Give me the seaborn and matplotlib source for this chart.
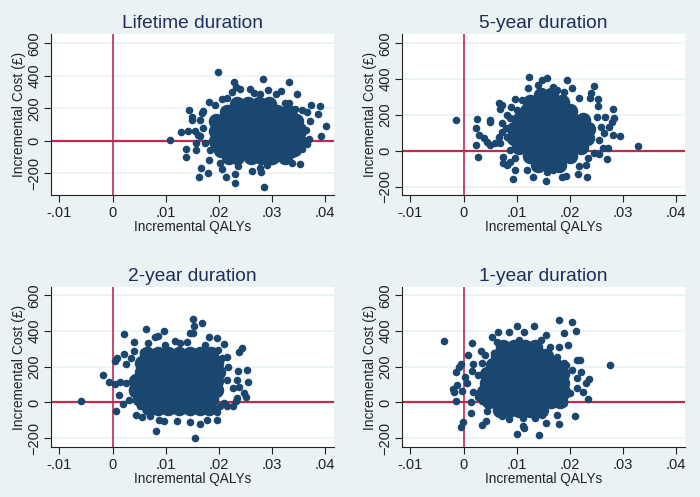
import matplotlib
matplotlib.use("Agg")
import matplotlib.pyplot as plt
import pandas as pd
import seaborn as sns

titles = ["Lifetime duration", "5-year duration", "2-year duration", "1-year duration"]
x_ticks = [-.01, 0, .01, .02, .03, .04]
x_tick_labels = ["-.01", "0", ".01", ".02", ".03", ".04"]
y_ticks = [-200, 0, 200, 400, 600]

# Dense centre of each cloud, read row by row: one cost per row, QALYs along it
life_core_cost = [225, 175, 120, 60, 0, -60, -100]
life_core_qaly = [[.0235,.0255,.0275,.0295],[.0215,.023,.025,.027,.029,.031,.033],[.0195,.021,.023,.025,.027,.029,.031,.033,.0345],
                  [.0195,.021,.023,.025,.027,.029,.031,.033,.0352],[.0195,.021,.023,.025,.027,.029,.031,.033,.0352],
                  [.0205,.022,.024,.026,.028,.030,.032,.0338],[.022,.0235,.026,.028,.030,.0325]]
five_core_cost = [310, 270, 220, 170, 120, 70, 20, -30, -80]
five_core_qaly = [[.0145,.0165],[.0125,.0145,.0165,.0185],[.012,.014,.016,.018,.020],[.0105,.0125,.0145,.0165,.0185,.0205,.0225],
                  [.0095,.0115,.0135,.0155,.0175,.0195,.0215,.0235],[.0095,.0115,.0135,.0155,.0175,.0195,.0215,.0232],
                  [.0105,.0125,.0145,.0165,.0185,.0205,.0222],[.0125,.0145,.0165,.0185,.020],[.014,.016,.018]]
two_core_cost = [270, 220, 170, 120, 70, 20, -30]
two_core_qaly = [[.0065,.0085,.0105,.0125,.0145,.0165,.0185],[.0055,.0075,.0095,.0115,.0135,.0155,.0175,.0195],
                 [.0055,.0065,.0085,.0105,.0125,.0145,.0165,.0185,.0198],[.0045,.0055,.0075,.0095,.0115,.0135,.0155,.0175,.0195],
                 [.0045,.0055,.0075,.0095,.0115,.0135,.0155,.0175,.0195],[.0052,.0065,.0085,.0105,.0125,.0145,.0165,.0185],
                 [.0068,.0085,.0105,.0125,.0145,.0165,.0182]]
one_core_cost = [310, 260, 210, 160, 110, 60, 10, -40]
one_core_qaly = [[.0075,.0095,.0115,.0135],[.0065,.0085,.0105,.0125,.0145,.0155],[.0055,.0075,.0095,.0115,.0135,.0155,.0172],
                 [.0045,.0065,.0085,.0105,.0125,.0145,.0165,.0185],[.0045,.0065,.0085,.0105,.0125,.0145,.0165,.0185],
                 [.0038,.0055,.0075,.0095,.0115,.0135,.0155,.0175,.0188],[.0048,.0065,.0085,.0105,.0125,.0145,.0165,.0182],
                 [.0068,.0085,.0105,.0125,.0145]]

# Individually visible replicates around each cloud: (QALYs, cost)
life_edge = [(.0109,2),(.0129,53),(.0142,60),(.0143,187),(.015,148),(.0149,127),(.0138,-53),(.0138,-103),(.0157,-60),(.0156,62),(.016,35),(.0165,29),(.0157,-16),(.0162,-226),(.0166,-166),(.0179,-199),(.0182,-119),(.0199,425),(.0206,-175),(.0203,-140),(.0213,-224),(.0231,-259),(.0231,-205),(.0237,-154),(.0262,-185),(.0278,-170),(.0279,-193),(.0286,-286),(.029,-150),(.0284,382),(.0228,362),(.0232,329),(.0225,302),(.024,316),(.0258,316),(.0267,292),(.0278,288),(.0293,312),(.0307,290),(.0318,306),(.0333,362),(.0348,286),(.0296,245),(.0324,230),(.0333,230),(.0206,255),(.0215,265),(.0182,238),(.0193,220),(.0171,183),(.0168,168),(.0165,127),(.0171,76),(.0174,-16),(.0184,-58),(.0374,220),(.0391,212),(.0387,162),(.0372,119),(.0401,90),(.0393,29),(.0367,175),(.0357,189),(.0344,195),(.0365,66),(.0357,86),(.0369,8),(.0366,-20),(.0357,-51),(.0347,-68),(.0353,-144),(.0338,-136),(.0328,-119),(.035,127),(.0341,158)]
five_edge = [(-.0015,170),(.0025,175),(.0023,127),(.0024,32),(.0028,-35),(.0029,88),(.0038,69),(.0044,50),(.005,32),(.0049,171),(.0049,158),(.006,41),(.0069,45),(.0066,265),(.0072,255),(.0069,231),(.0072,157),(.0066,78),(.0072,106),(.0079,125),(.0075,-34),(.0075,-71),(.0082,-80),(.0087,-65),(.0097,-108),(.0093,-160),(.012,-108),(.0131,-147),(.0155,-171),(.0157,-117),(.0169,-108),(.0186,-149),(.0192,-140),(.0216,-127),(.0233,-147),(.023,-80),(.0217,-84),(.0234,-43),(.0271,-45),(.0255,-19),(.0245,-11),(.0262,13),(.0272,13),(.0328,24),(.0294,84),(.0281,89),(.0264,97),(.0274,134),(.028,162),(.0284,184),(.0282,233),(.0267,190),(.0253,250),(.0253,287),(.0238,292),(.024,320),(.0245,360),(.0217,296),(.0204,348),(.0195,393),(.0189,330),(.0158,404),(.0148,395),(.014,367),(.0124,410),(.0121,348),(.011,283),(.0097,289),(.0089,242),(.0101,227),(.0168,358),(.0176,339),(.0082,200),(.0088,181),(.0082,78),(.0088,4),(.0097,-43),(.0252,190),(.0258,134),(.0255,60)]
two_edge = [(-.006,11),(-.0018,154),(-.0007,117),(.0004,102),(.0012,41),(.0006,-48),(.0004,232),(.0008,247),(.0021,270),(.0025,216),(.0022,381),(.0041,338),(.0041,288),(.0035,247),(.0057,283),(.0062,409),(.0067,331),(.008,364),(.0086,372),(.0097,398),(.0099,322),(.0118,346),(.0127,335),(.0146,387),(.0152,390),(.0152,465),(.0153,429),(.0169,442),(.014,340),(.0181,364),(.0197,362),(.0209,327),(.0199,294),(.0215,256),(.0206,247),(.0243,303),(.0239,283),(.0254,182),(.0237,178),(.0255,117),(.0235,126),(.0239,85),(.0226,82),(.0248,52),(.0251,28),(.0235,24),(.0232,11),(.0226,-19),(.0216,-22),(.021,-4),(.0215,126),(.0218,200),(.0196,-98),(.0177,-98),(.0196,-54),(.0203,-22),(.0164,-119),(.0155,-199),(.0146,-110),(.0121,-104),(.0096,-106),(.0082,-160),(.0088,-97),(.007,-78),(.0055,-82),(.0044,-69),(.002,-6),(.003,15),(.0014,117),(.0026,108),(.0039,89),(.0045,145),(.0055,200),(.0064,294),(.0039,52),(.0052,-22),(.0174,322)]
one_edge = [(-.0036,346),(.0016,333),(.0009,264),(.0033,290),(.0041,265),(-.0005,216),(-.0009,200),(-.0015,173),(.0018,216),(.0016,178),(.0003,141),(.0006,108),(-.0013,98),(-.002,74),(-.0019,59),(-.0003,67),(-.0015,11),(.0014,0),(.0014,-58),(-.0001,-110),(-.0004,-136),(.0035,-125),(.0043,-106),(.0045,-48),(.0035,6),(.0018,61),(.0028,33),(.0072,-78),(.0085,-93),(.0101,-175),(.0111,-134),(.0114,-143),(.0111,-87),(.0142,-184),(.0134,-87),(.0155,-117),(.0148,-72),(.0179,-123),(.0176,-72),(.0209,-76),(.0189,-4),(.0201,52),(.0224,61),(.0234,20),(.023,108),(.0236,132),(.0214,80),(.0214,136),(.0222,169),(.022,238),(.0214,238),(.0275,210),(.0204,182),(.0192,210),(.0179,461),(.0204,452),(.0211,401),(.0189,387),(.0197,322),(.0179,312),(.0155,377),(.0145,349),(.0132,429),(.0101,426),(.0114,392),(.0086,392),(.0064,396),(.0053,364),(.0063,340),(.0104,349),(.0163,312),(.0176,256),(.0189,219),(.0057,275),(.0035,219),(.0028,154)]

BG = "#EAF2F3"
NAVY = "#1A476F"
RED = "#C4284F"
TITLE = "#1E2D5A"
W, H = 700, 497

sns.set_theme(style="white")
plt.rcParams["font.family"] = ["Liberation Sans", "DejaVu Sans"]

panels = [
    (titles[0], life_core_cost, life_core_qaly, life_edge, (51, 334, 34, 195), (-.0116, .0417), (-335, 658)),
    (titles[1], five_core_cost, five_core_qaly, five_edge, (402, 685, 34, 195), (-.0116, .0417), (-247, 652)),
    (titles[2], two_core_cost, two_core_qaly, two_edge, (51, 334, 287, 447), (-.0116, .0417), (-249, 646)),
    (titles[3], one_core_cost, one_core_qaly, one_edge, (402, 685, 287, 447), (-.0116, .0417), (-249, 646)),
]

fig = plt.figure(figsize=(W / 100, H / 100), dpi=100, facecolor=BG)
for title, core_cost, core_qaly, edge, (l, r, t, b), xlim, ylim in panels:
    ax = fig.add_axes([l / W, 1 - b / H, (r - l) / W, (b - t) / H], facecolor="white")
    core = pd.DataFrame({"cost": core_cost, "qaly": core_qaly}).explode("qaly")
    core["qaly"] = core["qaly"].astype(float)
    outer = pd.DataFrame(edge, columns=["qaly", "cost"])
    ax.set_axisbelow(True)
    ax.set_yticks(y_ticks)
    ax.yaxis.grid(True, color=BG, lw=1.2)
    ax.xaxis.grid(False)
    ax.axhline(0, color=RED, lw=1.6, zorder=1.5)
    ax.axvline(0, color=RED, lw=1.2, zorder=1.5)
    sns.scatterplot(data=core, x="qaly", y="cost", ax=ax, s=125, color=NAVY, linewidth=0, zorder=3)
    sns.scatterplot(data=outer, x="qaly", y="cost", ax=ax, s=30, color=NAVY, linewidth=0, zorder=3)
    ax.set_xlim(*xlim)
    ax.set_ylim(*ylim)
    ax.set_xticks(x_ticks)
    ax.set_xticklabels(x_tick_labels)
    ax.set_xlabel("Incremental QALYs", fontsize=9.8, color="#222222", labelpad=0)
    ax.set_ylabel("Incremental Cost (£)", fontsize=9.9, color="#222222", labelpad=1)
    ax.set_title(title, fontsize=13.8, color=TITLE, pad=4)
    ax.tick_params(axis="both", length=5, width=0.8, color="#222222", labelcolor="#222222",
                   labelsize=10.5, pad=3, bottom=True, left=True)
    ax.tick_params(axis="y", labelrotation=90, pad=2)
    for lab in ax.get_yticklabels():
        lab.set_va("center")
    sns.despine(ax=ax)
    for side in ("left", "bottom"):
        ax.spines[side].set_color("#222222")
        ax.spines[side].set_linewidth(0.8)

fig.savefig("out.png", dpi=100, facecolor=BG)
